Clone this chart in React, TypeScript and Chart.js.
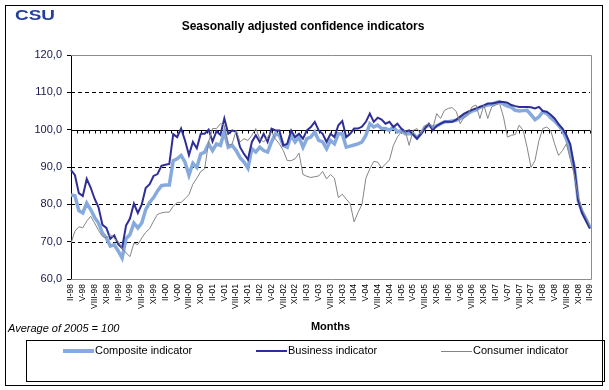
import React, { useEffect, useRef } from 'react';
import { Chart, registerables } from 'chart.js';

Chart.register(...registerables);

// ---- data ----
const romanMonths = ['I', 'II', 'III', 'IV', 'V', 'VI', 'VII', 'VIII', 'IX', 'X', 'XI', 'XII'];
const firstYear = 1998;
const firstMonthIndex = 1; // February
const monthCount = 133; // II-98 .. II-09
const categories: string[] = [];
for (let i = 0; i < monthCount; i++) {
  const m = (firstMonthIndex + i) % 12;
  const yr = firstYear + Math.floor((firstMonthIndex + i) / 12);
  categories.push(romanMonths[m] + '-' + String(yr % 100).padStart(2, '0'));
}
const tickEvery = 3;

const yMin = 60;
const yMax = 120;
const yStep = 10;
const dashedGridValues = [70, 80, 90, 110];
const baseLineValue = 100;

const composite = [
  82.5, 82.3, 78.3, 77.7, 80.3, 78.6, 76.5, 75.0, 72.3, 71.0,
  68.8, 69.2, 67.5, 65.6, 70.8, 71.9, 75.0, 73.7, 75.0, 78.6,
  80.5, 81.8, 83.6, 85.0, 85.2, 85.2, 91.7, 92.2, 93.1, 91.3,
  87.8, 91.0, 89.9, 93.5, 94.0, 96.2, 94.4, 96.2, 95.8, 99.4,
  95.3, 95.8, 94.4, 92.5, 91.3, 89.7, 94.9, 94.0, 95.3, 94.4,
  94.0, 96.7, 98.9, 98.5, 95.8, 95.3, 98.5, 96.7, 98.0, 95.3,
  97.6, 98.0, 99.4, 97.1, 96.7, 94.9, 97.1, 96.2, 98.9, 98.9,
  95.3, 95.6, 95.9, 96.2, 96.7, 98.5, 101.6, 100.7, 101.2, 100.3,
  100.3, 99.8, 100.7, 99.4, 99.8, 98.9, 98.9, 98.9, 97.8, 98.9,
  100.7, 101.2, 100.7, 101.0, 101.6, 102.1, 102.1, 102.3, 102.5, 103.0,
  103.5, 104.3, 105.0, 105.3, 106.0, 106.3, 106.6, 106.8, 107.2, 107.5,
  106.8, 106.3, 106.0, 105.2, 105.0, 105.1, 105.2, 104.0, 102.7, 103.4,
  104.8, 104.3, 103.2, 102.3, 101.2, 99.8, 97.5, 94.0, 90.0, 81.0,
  78.0, 76.0, 73.8,
];

const business = [
  89.2, 87.8, 83.0, 82.2, 86.8, 84.5, 81.5, 79.2, 74.5, 73.7,
  70.8, 71.7, 69.3, 68.3, 74.3, 76.2, 80.2, 77.7, 80.0, 84.4,
  85.4, 87.6, 88.1, 90.3, 90.6, 90.8, 98.8, 98.0, 100.3, 97.1,
  93.2, 96.7, 95.0, 98.9, 98.9, 100.0, 96.8, 99.6, 98.6, 103.0,
  98.9, 99.8, 99.4, 95.3, 93.5, 92.0, 96.7, 98.5, 96.7, 98.9,
  96.7, 100.3, 99.8, 99.8, 95.8, 96.2, 99.8, 98.0, 98.9, 97.6,
  99.8, 100.7, 102.1, 99.8, 98.9, 96.7, 98.9, 98.0, 101.2, 102.3,
  98.0, 98.9, 100.3, 100.3, 100.8, 102.1, 104.3, 102.1, 103.2, 102.7,
  101.6, 102.1, 100.7, 101.6, 100.3, 99.5, 99.8, 98.7, 97.6, 98.9,
  100.3, 101.6, 99.8, 101.0, 101.6, 102.1, 102.1, 102.1, 102.7, 103.5,
  104.3, 104.8, 105.3, 105.7, 106.1, 106.5, 107.0, 107.0, 107.2, 107.5,
  107.4, 107.2, 106.6, 106.3, 106.1, 106.1, 106.1, 106.0, 105.7, 106.1,
  105.0, 104.8, 104.0, 103.0, 101.5, 100.3, 98.5, 96.0, 90.0, 81.0,
  77.6, 75.5, 73.5,
];

const consumer = [
  69.6, 72.8, 74.0, 73.7, 75.5, 76.8, 75.0, 73.0, 71.4, 71.0,
  71.9, 70.8, 70.1, 68.3, 67.0, 66.0, 69.6, 69.2, 71.0, 72.5,
  73.5, 75.5, 77.3, 77.7, 77.9, 77.9, 79.5, 80.5, 80.5, 81.5,
  82.6, 85.4, 87.0, 88.8, 89.5, 96.7, 100.3, 100.3, 101.6, 101.2,
  95.8, 96.2, 99.8, 96.7, 97.6, 97.1, 98.5, 100.3, 97.6, 96.7,
  98.0, 99.4, 97.5, 96.2, 94.4, 91.7, 91.7, 92.2, 93.7, 88.0,
  87.5, 87.2, 87.4, 87.6, 88.8, 86.8, 88.0, 87.0, 81.8, 82.7,
  81.4, 80.2, 75.3, 77.8, 80.0, 87.0, 89.5, 91.5, 91.3, 89.7,
  90.8, 91.9, 95.8, 98.0, 99.4, 99.8, 95.8, 99.8, 100.3, 98.9,
  101.0, 101.6, 100.3, 104.3, 103.0, 105.2, 105.7, 105.9, 104.8, 101.6,
  103.4, 104.3, 106.1, 106.6, 103.0, 106.6, 103.0, 106.1, 106.6, 107.0,
  103.4, 98.0, 98.5, 98.7, 101.2, 99.8, 95.3, 89.9, 91.7, 97.0,
  100.3, 100.7, 99.8, 96.2, 93.1, 94.4, 96.2, 92.0, 88.0, 82.0,
  78.5, 76.5, 74.0,
];

const seriesNames = ['Composite indicator', 'Business indicator', 'Consumer indicator'];
const titleText = 'Seasonally adjusted confidence indicators';
const xTitleText = 'Months';
const noteText = 'Average of 2005 = 100';
const logoText = 'CSU';

// ---- styles ----
const W = 609;
const H = 390;
const FONT = '"Liberation Sans", Arial, sans-serif';
const colComposite = '#86aade';
const colBusiness = '#2e2e96';
const colConsumer = '#858585';

const decorPlugin = {
  id: 'decor',
  beforeDraw(chart: any) {
    const ctx = chart.ctx;
    ctx.save();
    ctx.fillStyle = '#ffffff';
    ctx.fillRect(0, 0, chart.width, chart.height);
    ctx.restore();
  },
  beforeDatasetsDraw(chart: any) {
    const { ctx, chartArea, scales } = chart;
    const { left, right, top, bottom } = chartArea;
    const y = scales.y;
    const x = scales.x;
    ctx.save();
    ctx.lineWidth = 1;
    ctx.strokeStyle = '#000000';
    ctx.setLineDash([4, 3]);
    dashedGridValues.forEach((v) => {
      const py = Math.round(y.getPixelForValue(v)) + 0.5;
      ctx.beginPath();
      ctx.moveTo(left, py);
      ctx.lineTo(right, py);
      ctx.stroke();
    });
    ctx.setLineDash([]);
    ctx.strokeStyle = '#8c8c8c';
    const pt = Math.round(top) + 0.5;
    const pb = Math.round(bottom) + 0.5;
    const pr = Math.round(right) + 1.5;
    ctx.beginPath();
    ctx.moveTo(left, pt);
    ctx.lineTo(pr, pt);
    ctx.lineTo(pr, pb);
    ctx.lineTo(left, pb);
    ctx.stroke();
    ctx.strokeStyle = '#000000';
    const p100 = Math.round(y.getPixelForValue(baseLineValue)) + 0.5;
    ctx.beginPath();
    ctx.moveTo(left, p100);
    ctx.lineTo(right, p100);
    ctx.stroke();
    const n = categories.length - 1;
    for (let k = 0; k * 1.5 <= n + 0.01; k++) {
      const px = Math.round(x.getPixelForValue(k * 1.5)) + 0.5;
      ctx.beginPath();
      ctx.moveTo(px, p100);
      ctx.lineTo(px, p100 + 3);
      ctx.stroke();
    }
    ctx.restore();
  },
  afterDraw(chart: any) {
    const { ctx, chartArea } = chart;
    ctx.save();
    ctx.fillStyle = '#22409a';
    ctx.font = 'bold 14px ' + FONT;
    ctx.textBaseline = 'alphabetic';
    ctx.textAlign = 'left';
    ctx.translate(15, 20);
    ctx.scale(1.35, 1);
    ctx.fillText(logoText, 0, 0);
    ctx.setTransform(1, 0, 0, 1, 0, 0);
    ctx.fillStyle = '#000000';
    ctx.font = 'bold 12px ' + FONT;
    ctx.textAlign = 'center';
    ctx.textBaseline = 'middle';
    ctx.fillText(titleText, 303, 27);
    ctx.font = 'bold 11px ' + FONT;
    ctx.fillText(xTitleText, (chartArea.left + chartArea.right) / 2, 327);
    ctx.font = 'italic 11px ' + FONT;
    ctx.textAlign = 'left';
    ctx.fillText(noteText, 8, 329);
    ctx.strokeStyle = '#000000';
    ctx.lineWidth = 1;
    ctx.strokeRect(26.5, 340.5, 578, 41);
    const ly = 351;
    const entries = [
      { x: 63, color: colComposite, w: 4 },
      { x: 256, color: colBusiness, w: 2 },
      { x: 441, color: colConsumer, w: 1 },
    ];
    ctx.font = '11px ' + FONT;
    entries.forEach((e, i) => {
      ctx.strokeStyle = e.color;
      ctx.lineWidth = e.w;
      ctx.beginPath();
      ctx.moveTo(e.x, ly + (e.w % 2 ? 0.5 : 0));
      ctx.lineTo(e.x + 31, ly + (e.w % 2 ? 0.5 : 0));
      ctx.stroke();
      ctx.fillStyle = '#000000';
      ctx.fillText(seriesNames[i], e.x + 32, ly);
    });
    ctx.strokeStyle = '#000000';
    ctx.lineWidth = 1;
    ctx.strokeRect(5.5, 5.5, 597, 380);
    ctx.restore();
  },
};

export default function App() {
  const ref = useRef<HTMLCanvasElement | null>(null);
  useEffect(() => {
    document.body.style.margin = '0';
    if (!ref.current) return;
    const chart = new Chart(ref.current, {
      type: 'line',
      data: {
        labels: categories,
        datasets: [
          {
            label: seriesNames[0],
            data: composite,
            borderColor: colComposite,
            borderWidth: 3.5,
            pointRadius: 0,
            tension: 0,
            order: 3,
          },
          {
            label: seriesNames[1],
            data: business,
            borderColor: colBusiness,
            borderWidth: 2,
            pointRadius: 0,
            tension: 0,
            order: 2,
          },
          {
            label: seriesNames[2],
            data: consumer,
            borderColor: colConsumer,
            borderWidth: 1,
            pointRadius: 0,
            tension: 0,
            order: 1,
          },
        ],
      },
      options: {
        animation: false,
        responsive: false,
        devicePixelRatio: 1,
        layout: { padding: { left: 0, top: 55, right: 19, bottom: 0 } },
        plugins: {
          legend: { display: false },
          title: { display: false },
          tooltip: { enabled: false },
        },
        scales: {
          x: {
            type: 'category',
            offset: false,
            grid: { display: false, drawTicks: false },
            border: { display: false },
            ticks: {
              autoSkip: false,
              minRotation: 90,
              maxRotation: 90,
              padding: 5,
              color: '#000000',
              font: { family: FONT, size: 8.5 },
              callback: (_v: any, i: number) => (i % tickEvery === 0 ? categories[i] : ''),
            },
            afterFit: (s: any) => {
              s.height = 111;
            },
          },
          y: {
            min: yMin,
            max: yMax,
            ticks: {
              stepSize: yStep,
              padding: 5,
              color: '#16164e',
              font: { family: FONT, size: 11 },
              callback: (v: any) => Number(v).toFixed(1).replace('.', ','),
            },
            grid: { drawOnChartArea: false, drawTicks: true, tickLength: 4, color: '#000000' },
            border: { display: true, color: '#000000' },
            afterFit: (s: any) => {
              s.width = 71;
            },
          },
        },
      },
      plugins: [decorPlugin],
    } as any);
    return () => chart.destroy();
  }, []);
  return (
    <div style={{ width: W, height: H }}>
      <canvas ref={ref} width={W} height={H} style={{ width: W, height: H, display: 'block' }} />
    </div>
  );
}
